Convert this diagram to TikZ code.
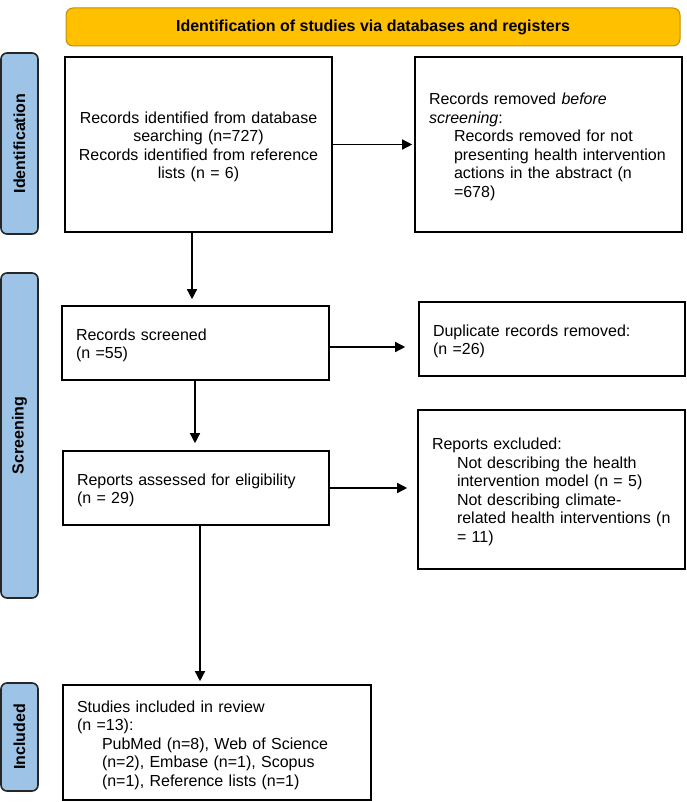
\documentclass[tikz,border=0pt]{standalone}
\usepackage{fontspec}
\setmainfont{Liberation Sans}
\usetikzlibrary{arrows.meta}
\definecolor{hdrfill}{HTML}{FFC000}
\definecolor{hdrline}{HTML}{BF9000}
\definecolor{barfill}{HTML}{9DC3E6}
\newcommand{\lines}[1]{\raisebox{-3pt}[\height][\depth]{\begin{tabular}{@{}l@{}}#1\end{tabular}}}
\newcommand{\clines}[1]{\raisebox{-3pt}[\height][\depth]{\begin{tabular}{@{}c@{}}#1\end{tabular}}}
\newcommand{\ind}{\hspace*{25pt}}
\begin{document}
\begin{tikzpicture}[x=1pt,y=-1pt,
  txt/.style={font=\fontsize{16}{18.5}\selectfont},
  box/.style={txt, draw=black, line width=1.6pt, rectangle, inner ysep=0pt},
  lbox/.style={box, align=left, inner xsep=14pt},
  cbox/.style={box, align=center, inner xsep=10pt},
  bar/.style={draw=black!85, fill=barfill, line width=1.6pt, rounded corners=6pt,
    rotate=90, inner sep=0pt, font=\bfseries\fontsize{16}{18}\selectfont},
  arr/.style={line width=1.4pt, -{Triangle[length=10pt,width=10pt]}},
]
\useasboundingbox (0,0) rectangle (687,802);

% header
\node[draw=hdrline, fill=hdrfill, line width=1pt, rounded corners=7pt,
  minimum width=614pt, minimum height=38pt, inner sep=0pt,
  font=\bfseries\fontsize{16}{18}\selectfont] (hdr) at (373,27)
  {Identification of studies via databases and registers};

% side bars
\node[bar, minimum width=181pt, minimum height=37pt] (idbar) at (19.5,143.5) {Identification};
\node[bar, minimum width=325pt, minimum height=37pt] (scbar) at (19.5,435.5) {Screening};
\node[bar, minimum width=108pt, minimum height=37pt] (inbar) at (19.5,737) {Included};

% boxes
\node[cbox, minimum width=267pt, minimum height=175pt, text width=247pt] (b1) at (198.5,144.5)
  {\clines{Records identified from database\\searching (n=727)\\Records identified from reference\\lists (n = 6)}};
\node[lbox, minimum width=267pt, minimum height=175pt, text width=239pt] (b2) at (548.5,144.5)
  {\lines{Records removed \textit{before}\\
   \textit{screening}:\\
   \ind Records removed for not\\
   \ind presenting health intervention\\
   \ind actions in the abstract (n\\
   \ind =678)}};
\node[lbox, minimum width=267pt, minimum height=74pt, text width=239pt] (b3) at (195.5,343)
  {\lines{Records screened\\(n =55)}};
\node[lbox, minimum width=266pt, minimum height=74pt, text width=238pt] (b4) at (552,339)
  {\lines{Duplicate records removed:\\(n =26)}};
\node[lbox, minimum width=266pt, minimum height=74pt, text width=238pt] (b5) at (196,488)
  {\lines{Reports assessed for eligibility\\(n = 29)}};
\node[lbox, minimum width=267pt, minimum height=159pt, text width=239pt] (b6) at (551.5,489.5)
  {\lines{Reports excluded:\\
   \ind Not describing the health\\
   \ind intervention model (n = 5)\\
   \ind Not describing climate-\\
   \ind related health interventions (n\\
   \ind = 11)}};
\node[lbox, minimum width=308pt, minimum height=115pt, text width=280pt] (b7) at (217,742.5)
  {\lines{Studies included in review\\
   (n =13):\\
   \ind PubMed (n=8), Web of Science\\
   \ind (n=2), Embase (n=1), Scopus\\
   \ind (n=1), Reference lists (n=1)}};

% helper coordinates
\coordinate (c1) at (192,0);
\coordinate (c2) at (195,0);
\coordinate (c3) at (200,0);
\coordinate (r1) at (0,347);

% connectors
\draw[arr, shorten >=2pt] (b1.east) -- (b2.west);
\draw[arr, shorten >=6pt] (b1.south -| c1) -- (b3.north -| c1);
\draw[arr, shorten >=13pt] (b3.east |- r1) -- (b4.west |- r1);
\draw[arr, shorten >=7pt] (b3.south -| c2) -- (b5.north -| c2);
\draw[arr, shorten >=10pt] (b5.east) -- (b6.west |- b5.east);
\draw[arr, shorten >=3pt] (b5.south -| c3) -- (b7.north -| c3);
\end{tikzpicture}
\end{document}
